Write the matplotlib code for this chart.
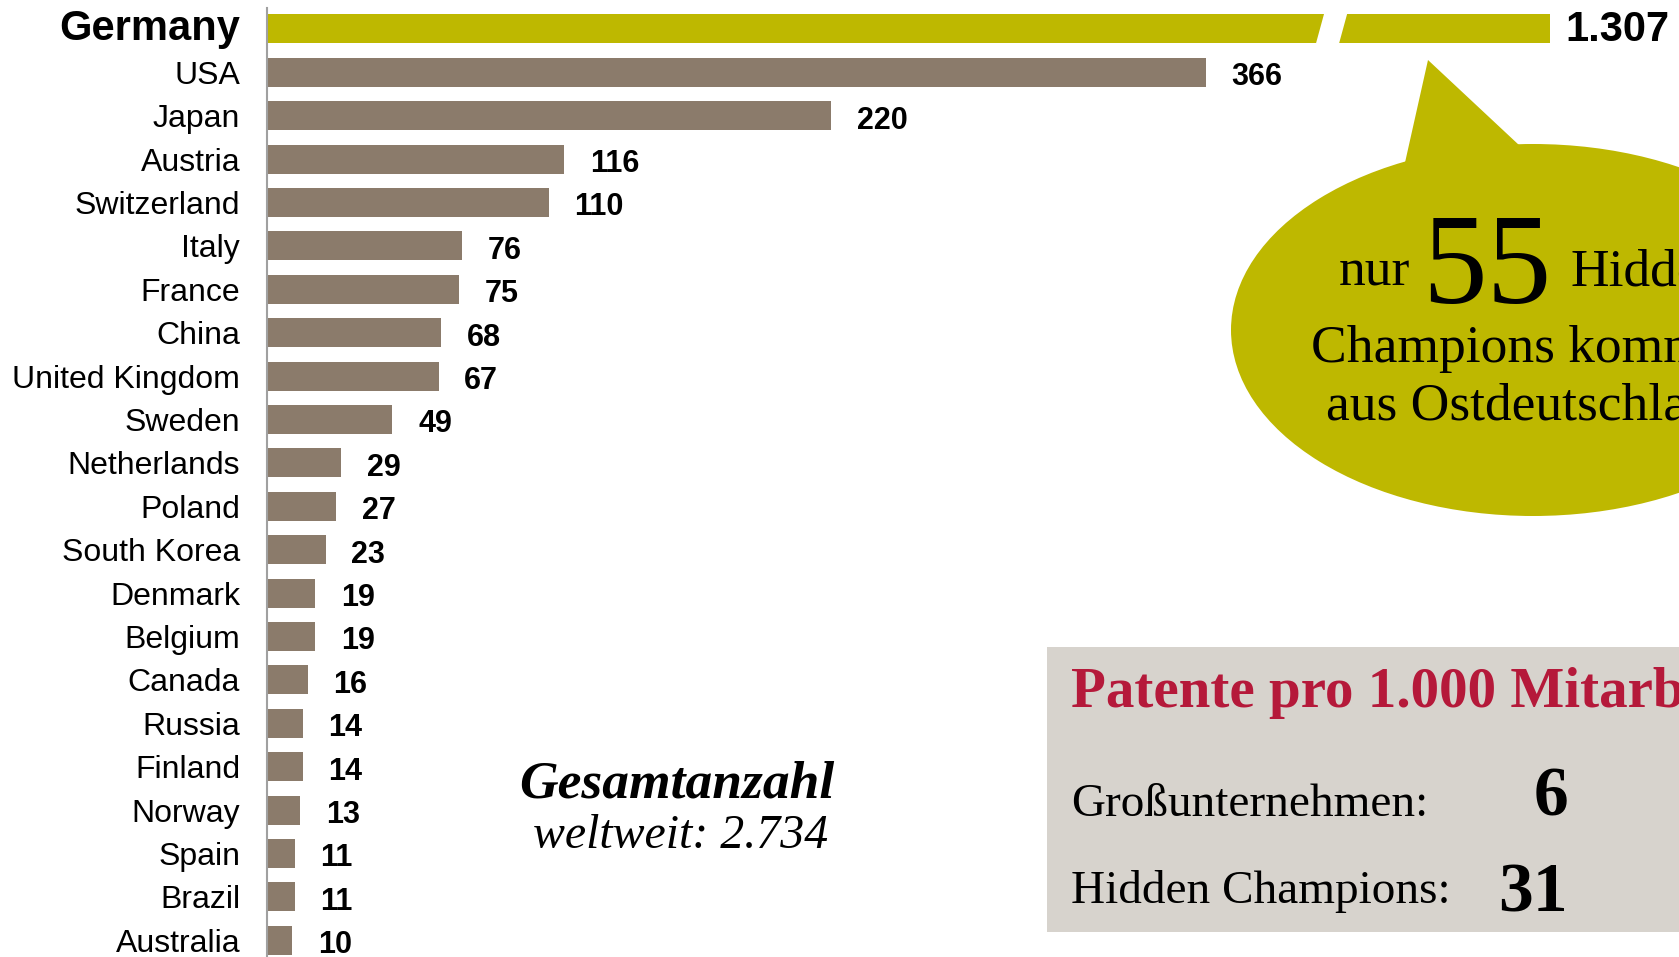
import matplotlib
matplotlib.use("Agg")
import matplotlib.pyplot as plt
from matplotlib.patches import Ellipse, Polygon, Rectangle

# ---------------- data ----------------
countries = ["Germany", "USA", "Japan", "Austria", "Switzerland", "Italy", "France",
             "China", "United Kingdom", "Sweden", "Netherlands", "Poland", "South Korea",
             "Denmark", "Belgium", "Canada", "Russia", "Finland", "Norway", "Spain",
             "Brazil", "Australia"]
values = [1307, 366, 220, 116, 110, 76, 75, 68, 67, 49, 29, 27, 23, 19, 19, 16, 14, 14,
          13, 11, 11, 10]
total_text = "Gesamtanzahl"
total_sub = "weltweit: 2.734"
bubble_number = "55"
box_title = "Patente pro 1.000 Mitarbeiter"
box_rows = ["Großunternehmen:", "Hidden Champions:"]
box_values = ["6", "31"]

# ---------------- style ----------------
W, H = 1679, 957
OLIVE = "#BEB800"
BROWN = "#8B7B6B"
BOX = "#D7D3CD"
RED = "#B5193A"
SANS = "Liberation Sans"
SERIF = "Liberation Serif"
BROKEN_LEN = 500      # drawn length of the broken (truncated) Germany bar
BREAK_AT = 415        # where the break gap sits

fig = plt.figure(figsize=(W / 100, H / 100), dpi=100)
fig.patch.set_facecolor("white")

# main bar axes
axis_x = 266.6
px_per_unit = 2.566
row0 = 28.9
row_step = 43.4
top_px = 8
ax = fig.add_axes([axis_x / W, 0, 1 - axis_x / W, (H - top_px) / H])
ax.set_xlim(0, (W - axis_x) / px_per_unit)
ax.set_ylim((H - row0) / row_step, (top_px - row0) / row_step)

n = len(countries)
ypos = list(range(n))
draw_vals = [min(v, BROKEN_LEN) for v in values]
colors = [OLIVE if i == 0 else BROWN for i in range(n)]
bh = 0.67
ax.barh(ypos, draw_vals, height=bh, color=colors, edgecolor="none", zorder=2)

# break gap in the Germany bar
slant = 3.1
gap = 9.0
ext = 0.45
k = slant / bh
poly = [(BREAK_AT - gap / 2 + k * ext, -ext), (BREAK_AT + gap / 2 + k * ext, -ext),
        (BREAK_AT + gap / 2 - k * ext, ext), (BREAK_AT - gap / 2 - k * ext, ext)]
ax.add_patch(Polygon(poly, closed=True, facecolor="white", edgecolor="none", zorder=3))

# value labels
for i, v in enumerate(values):
    txt = f"{v:,}".replace(",", ".")
    if i == 0:
        ax.annotate(txt, xy=(draw_vals[i], i), xytext=(11.5, -1.0), textcoords="offset points",
                    ha="left", va="center", fontsize=30, fontweight="bold", family=SANS,
                    color="black")
    else:
        ax.annotate(txt, xy=(draw_vals[i], i), xytext=(18.5, -3.5), textcoords="offset points",
                    ha="left", va="center", fontsize=22, fontweight="bold", family=SANS,
                    color="black")

ax.set_yticks(ypos)
ax.set_yticklabels(countries, family=SANS, fontsize=23)
ax.tick_params(axis="y", length=0, pad=19)
tl = ax.get_yticklabels()
tl[0].set_fontweight("bold")
tl[0].set_fontsize(30)
tl[0].set_verticalalignment("center")
ax.set_xticks([])
for s in ["top", "right", "bottom"]:
    ax.spines[s].set_visible(False)
ax.spines["left"].set_color("#A0A0A0")
ax.spines["left"].set_linewidth(1.5)
ax.patch.set_visible(False)

# overlay for annotations (pixel coordinates)
ov = fig.add_axes([0, 0, 1, 1])
ov.set_xlim(0, W)
ov.set_ylim(H, 0)
ov.axis("off")
ov.patch.set_visible(False)

# speech bubble
ov.add_patch(Ellipse((1533, 330), 604, 372, facecolor=OLIVE, edgecolor="none"))
ov.add_patch(Polygon([(1428, 60), (1402, 176), (1535, 160)], closed=True,
                     facecolor=OLIVE, edgecolor="none"))
ov.text(1410, 286, "nur", family=SERIF, fontsize=38.5, ha="right", va="baseline")
ov.text(1487, 303, bubble_number, family=SERIF, fontsize=93, ha="center", va="baseline")
ov.text(1570, 286, "Hidden", family=SERIF, fontsize=38.5, ha="left", va="baseline")
ov.text(1533, 362, "Champions kommen", family=SERIF, fontsize=38.5, ha="center", va="baseline")
ov.text(1533, 419, "aus Ostdeutschland", family=SERIF, fontsize=38.5, ha="center", va="baseline")

# total annotation
ov.text(677, 798, total_text, family=SERIF, fontsize=38.5, fontweight="bold",
        style="italic", ha="center", va="baseline")
ov.text(681, 848, total_sub, family=SERIF, fontsize=34.5, style="italic",
        ha="center", va="baseline")

# grey box
ov.add_patch(Rectangle((1047, 647), W - 1047 + 10, 932 - 647, facecolor=BOX, edgecolor="none"))
ov.text(1071, 707, box_title, family=SERIF, fontsize=41, fontweight="bold", color=RED,
        ha="left", va="baseline")
ov.text(1071, 816, box_rows[0], family=SERIF, fontsize=34, ha="left", va="baseline")
ov.text(1071, 903, box_rows[1], family=SERIF, fontsize=34, ha="left", va="baseline")
ov.text(1568, 816, box_values[0], family=SERIF, fontsize=50, fontweight="bold",
        ha="right", va="baseline")
ov.text(1568, 912, box_values[1], family=SERIF, fontsize=50, fontweight="bold",
        ha="right", va="baseline")

fig.savefig("out.png", dpi=100)
